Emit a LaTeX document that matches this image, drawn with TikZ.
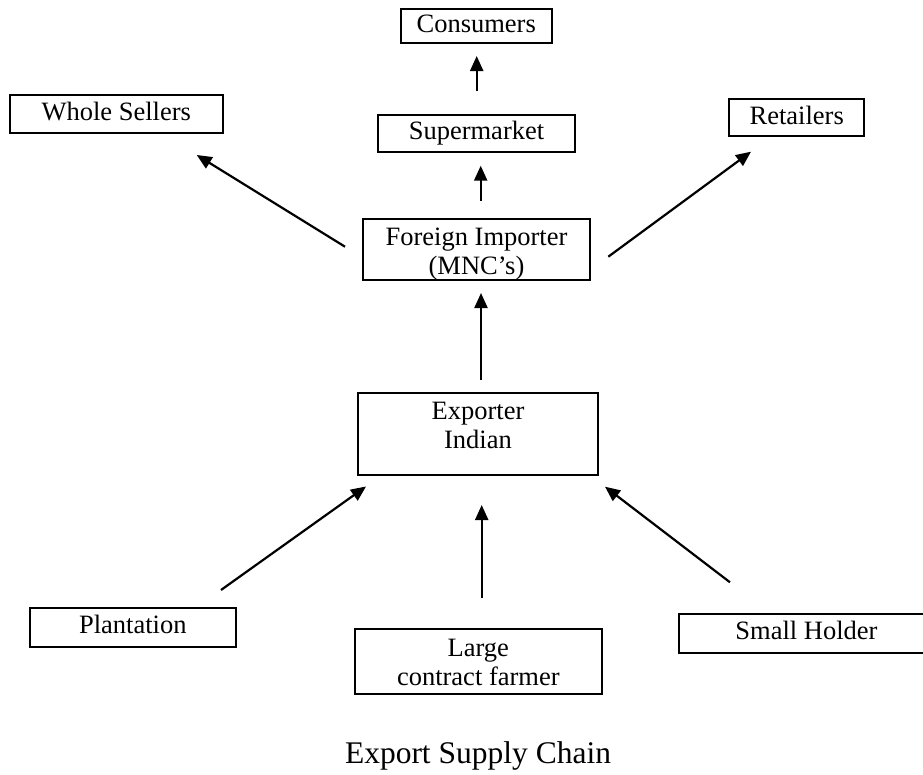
\documentclass[tikz,border=0pt]{standalone}
\usepackage{fontspec}
\setmainfont{Liberation Serif}
\usetikzlibrary{arrows.meta}
\begin{document}
\begin{tikzpicture}[x=1pt,y=-1pt,
  box/.style={draw, line width=2pt, inner sep=2pt,
    font=\fontsize{26.5}{29.5}\selectfont, text height=18pt, text depth=5pt},
  flow/.style={line width=2.2pt, -{Triangle[length=15pt,width=13pt]}},
  caption/.style={font=\fontsize{31.5}{36}\selectfont, anchor=base}]
\useasboundingbox (0,0) rectangle (923,774);
\clip (0,0) rectangle (923,774);

% upper tier: buyers
\node[box, minimum width=151pt, minimum height=34.3pt] (con) at (476.2,26.2) {Consumers};
\node[box, minimum width=212.7pt, minimum height=38.3pt] (ws) at (116.3,114.2) {Whole Sellers};
\node[box, minimum width=197pt, minimum height=36.7pt] (sm) at (476.5,133.3) {Supermarket};
\node[box, minimum width=135.3pt, minimum height=37pt] (ret) at (796.7,117.5) {Retailers};

% importer and exporter
\node[box, minimum width=227pt, minimum height=61pt, text depth=27pt] (fi) at (476.5,249.5)
  {\begin{tabular}[t]{@{}c@{}}Foreign Importer\\(MNC’s)\end{tabular}};
\node[box, minimum width=239.4pt, minimum height=82.3pt, text depth=47pt] (exp) at (478,433.8)
  {\begin{tabular}[t]{@{}c@{}}Exporter\\Indian\end{tabular}};

% lower tier: growers
\node[box, minimum width=205.7pt, minimum height=39pt] (pl) at (132.8,627.2) {Plantation};
\node[box, minimum width=246.7pt, minimum height=65pt, text depth=29.6pt] (lcf) at (478.3,661.8)
  {\begin{tabular}[t]{@{}c@{}}Large\\contract farmer\end{tabular}};
\node[box, minimum width=255pt, minimum height=38.7pt] (sh) at (806.5,633.3) {Small Holder};

\node[caption] (cap) at (478,763) {Export Supply Chain};

% arrow end points
\coordinate (sm-out)  at (476.7,90.7);  \coordinate (con-in) at (476.7,56);
\coordinate (fi-up)   at (480.7,201);   \coordinate (sm-in)  at (480.7,165.7);
\coordinate (exp-up)  at (481,380);     \coordinate (fi-in)  at (481,293);
\coordinate (fi-left) at (345,246.7);   \coordinate (ws-in)  at (196.7,155);
\coordinate (fi-right) at (608.3,256.7); \coordinate (ret-in) at (751,151.7);
\coordinate (pl-out)  at (221,590);     \coordinate (exp-inl) at (366,486.5);
\coordinate (lcf-out) at (481.7,598.3); \coordinate (exp-inm) at (481.7,505);
\coordinate (sh-out)  at (730,582.3);   \coordinate (exp-inr) at (605,486.7);

\draw[flow] (sm-out) -- (con-in);
\draw[flow] (fi-up) -- (sm-in);
\draw[flow] (exp-up) -- (fi-in);
\draw[flow] (fi-left) -- (ws-in);
\draw[flow] (fi-right) -- (ret-in);
\draw[flow] (pl-out) -- (exp-inl);
\draw[flow] (lcf-out) -- (exp-inm);
\draw[flow] (sh-out) -- (exp-inr);
\end{tikzpicture}
\end{document}
